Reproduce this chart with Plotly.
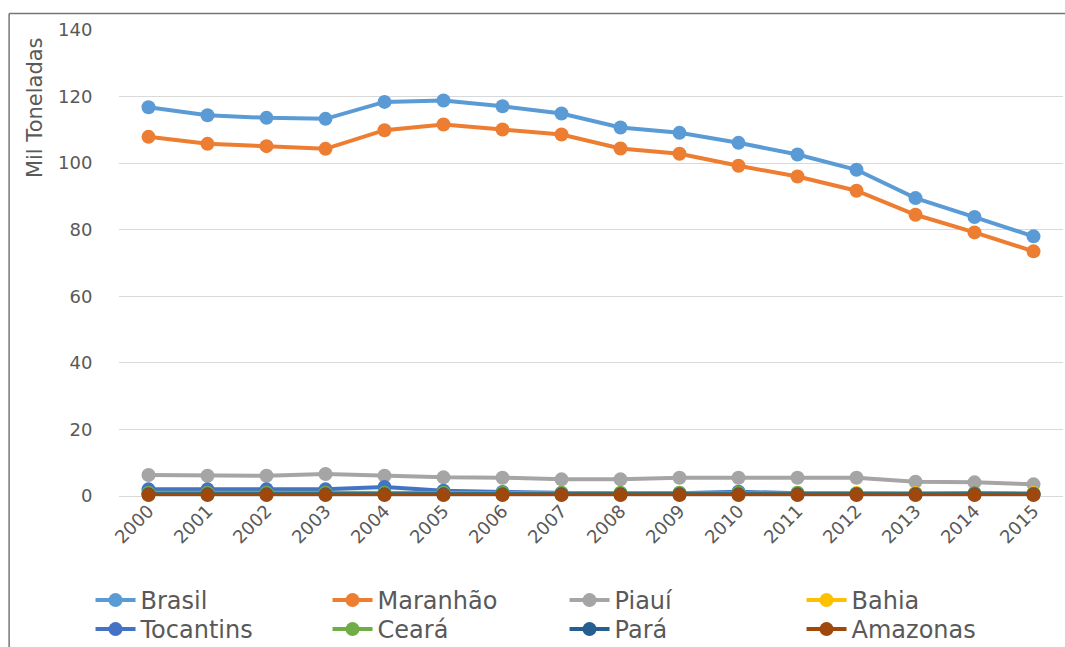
import plotly.graph_objects as go

years = [str(y) for y in range(2000, 2016)]

brasil = [116.8, 114.4, 113.6, 113.3, 118.4, 118.8, 117.1, 114.9, 110.7, 109.1, 106.1, 102.6, 98.0, 89.5, 83.8, 78.0]
maranhao = [107.9, 105.8, 105.1, 104.3, 109.9, 111.6, 110.1, 108.6, 104.4, 102.8, 99.2, 96.0, 91.7, 84.5, 79.2, 73.5]
piaui = [6.3, 6.1, 6.1, 6.6, 6.1, 5.6, 5.5, 5.0, 5.0, 5.5, 5.5, 5.5, 5.5, 4.3, 4.1, 3.5]
bahia = [0.6, 0.6, 0.6, 0.6, 0.6, 0.6, 0.6, 0.6, 0.6, 0.6, 0.6, 0.6, 0.9, 0.9, 0.9, 0.9]
tocantins = [2.0, 2.0, 2.0, 2.0, 2.7, 1.6, 1.2, 0.8, 0.7, 0.8, 1.3, 0.8, 0.6, 0.6, 0.8, 0.6]
ceara = [1.0, 1.0, 1.0, 1.0, 1.0, 1.0, 1.0, 1.0, 1.0, 1.0, 1.0, 1.0, 0.7, 0.7, 0.7, 0.7]
para = [0.5, 0.5, 0.5, 0.5, 0.5, 0.5, 0.5, 0.5, 0.5, 0.5, 0.5, 0.5, 0.5, 0.5, 0.5, 0.5]
amazonas = [0.3, 0.3, 0.3, 0.3, 0.3, 0.3, 0.3, 0.3, 0.3, 0.3, 0.3, 0.3, 0.3, 0.3, 0.3, 0.3]

series = [
    ("Brasil", brasil, "#5B9BD5"),
    ("Maranhão", maranhao, "#ED7D31"),
    ("Piauí", piaui, "#A5A5A5"),
    ("Bahia", bahia, "#FFC000"),
    ("Tocantins", tocantins, "#4472C4"),
    ("Ceará", ceara, "#70AD47"),
    ("Pará", para, "#255E91"),
    ("Amazonas", amazonas, "#9E480E"),
]

FONT = "DejaVu Sans"
TXT = "#595959"

fig = go.Figure()
for i, (name, vals, col) in enumerate(series):
    fig.add_trace(go.Scatter(
        x=years, y=vals, name=name, mode="lines+markers",
        line=dict(color=col, width=4),
        marker=dict(color=col, size=14),
        cliponaxis=False,
        legend="legend" if i < 4 else "legend2",
    ))

W, H = 1065, 647
PLOT_LEFT, PLOT_TOP, PLOT_BOTTOM = 118.5, 30, 496  # page px
L = PLOT_LEFT
R = 1.5
T = PLOT_TOP
B = H - PLOT_BOTTOM
pw = W - L - R
ph = H - T - B


def px_x(page_x):
    return (page_x - L) / pw


def px_y(page_y):
    return (H - B - page_y) / ph


leg_common = dict(
    orientation="h", xanchor="left", yanchor="top",
    font=dict(family=FONT, size=24, color=TXT),
    entrywidth=182, entrywidthmode="pixels",
    itemwidth=40, tracegroupgap=0,
    bgcolor="rgba(0,0,0,0)",
)

BORDER = dict(color="#767676", width=1.5)

fig.update_layout(
    width=W, height=H,
    margin=dict(l=L, r=R, t=T, b=B, pad=0, autoexpand=False),
    paper_bgcolor="white", plot_bgcolor="white",
    font=dict(family=FONT, color=TXT, size=18),
    showlegend=True,
    legend=dict(x=px_x(90), y=px_y(578), **leg_common),
    legend2=dict(x=px_x(90), y=px_y(607), **leg_common),
    xaxis=dict(
        type="category", range=[-0.5, 15.5],
        tickangle=-45, showgrid=False, zeroline=False,
        showline=False, ticks="",
        tickfont=dict(family=FONT, size=18, color=TXT),
        fixedrange=True,
    ),
    yaxis=dict(
        range=[0, 140], dtick=20, tick0=0,
        showgrid=True, gridcolor="#D9D9D9", gridwidth=1,
        zeroline=True, zerolinecolor="#D9D9D9", zerolinewidth=1,
        showline=False, ticks="outside", ticklen=22, tickcolor="rgba(0,0,0,0)",
        tickfont=dict(family=FONT, size=18, color=TXT),
        fixedrange=True,
    ),
    annotations=[dict(
        text="Mil Toneladas", xref="paper", yref="paper",
        x=px_x(35), y=px_y(107.5),
        xanchor="center", yanchor="middle", textangle=-90,
        showarrow=False, font=dict(family=FONT, size=21, color=TXT),
    )],
    shapes=[
        dict(type="line", xref="paper", yref="paper",
             x0=px_x(8.5), x1=1.3, y0=px_y(13.5), y1=px_y(13.5),
             line=BORDER, layer="below"),
        dict(type="line", xref="paper", yref="paper",
             x0=px_x(8.5), x1=px_x(8.5), y0=px_y(13.5), y1=-0.7,
             line=BORDER, layer="below"),
    ],
)

fig.write_html(
    "out.html",
    config={"displayModeBar": False},
    post_script="document.body.style.margin='0';document.body.style.overflow='hidden';",
)
